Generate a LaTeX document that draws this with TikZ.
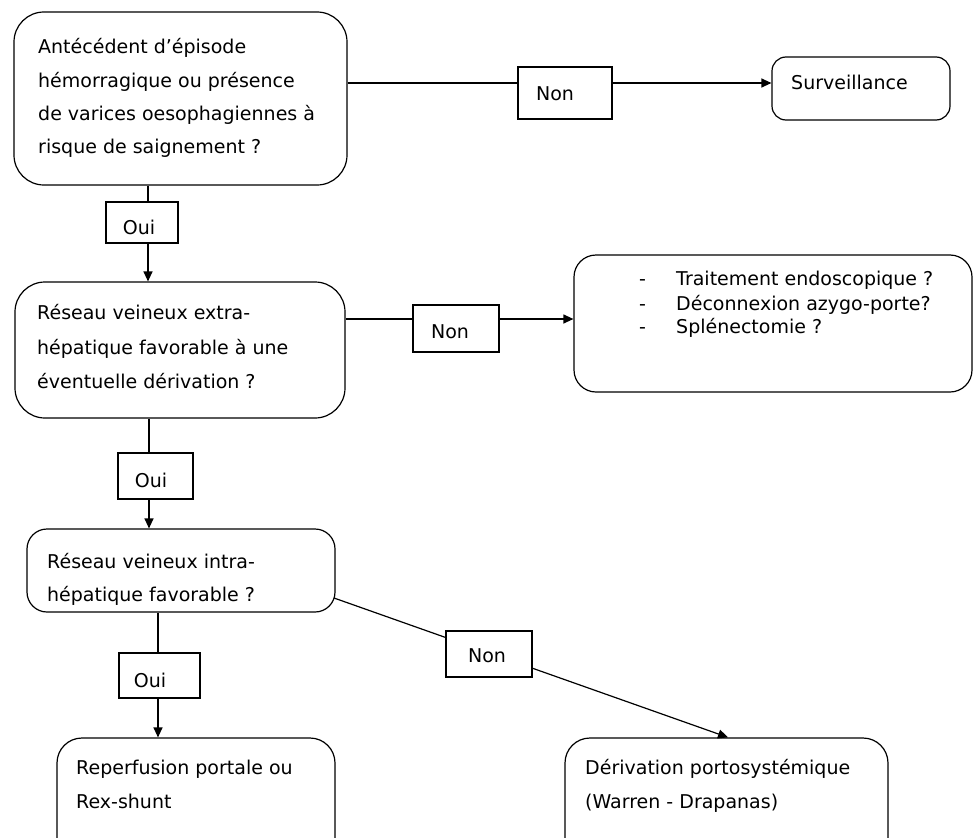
\documentclass[tikz,border=0pt]{standalone}
\usepackage{fontspec}
\setmainfont{DejaVu Sans}
\usetikzlibrary{arrows.meta}
\tikzset{
  rbox/.style={draw, fill=white, rounded corners=#1, line width=1.2bp, inner sep=0pt},
  rbox/.default=25bp,
  lab/.style={draw, fill=white, line width=1.2bp, inner sep=0pt},
  txt/.style={anchor=base west, inner sep=0pt, font=\fontsize{19bp}{23bp}\selectfont},
  ctxt/.style={anchor=base, inner sep=0pt, font=\fontsize{19bp}{23bp}\selectfont},
  conn/.style={line width=1.2bp},
  arr/.style={line width=1.2bp, -{Triangle[length=10bp,width=9bp]}}
}
\begin{document}
\begin{tikzpicture}[x=1bp,y=-1bp]
\useasboundingbox (0,0) rectangle (975,838);
% helper coordinates for connector levels
\coordinate (y1) at (0,83);
\coordinate (y2) at (0,319);
\coordinate (x1) at (148,0);
\coordinate (x2) at (149,0);
\coordinate (x3) at (158,0);
\coordinate (x6) at (728,0);

% boxes
\node[rbox=30bp, minimum width=333bp, minimum height=173bp] (b1) at (180.5,98.5) {};
\node[rbox=14bp, minimum width=178bp, minimum height=63bp] (surv) at (861,88.5) {};
\node[rbox=30bp, minimum width=330bp, minimum height=136bp] (b2) at (180,350) {};
\node[rbox=22bp, minimum width=398bp, minimum height=137bp] (b3) at (773,323.5) {};
\node[rbox=20bp, minimum width=308bp, minimum height=83bp] (b4) at (181,570.5) {};
\node[rbox=25bp, minimum width=278bp, minimum height=130bp] (b5) at (196,803) {};
\node[rbox=25bp, minimum width=323bp, minimum height=130bp] (b6) at (726.5,803) {};

% connectors
\draw[arr] (b1.east |- y1) -- (surv.west |- y1);
\draw[arr] (b1.south -| x1) -- (b2.north -| x1);
\draw[arr] (b2.east |- y2) -- (b3.west |- y2);
\draw[arr] (b2.south -| x2) -- (b4.north -| x2);
\coordinate (s5) at (334,598);
\draw[arr] (s5) -- (b6.north -| x6);
\draw[arr] (b4.south -| x3) -- (b5.north -| x3);

% label boxes
\node[lab, minimum width=94bp, minimum height=52bp] (n1) at (565,93) {};
\node[lab, minimum width=72bp, minimum height=41bp] (o1) at (142,222.5) {};
\node[lab, minimum width=86bp, minimum height=47bp] (n2) at (456,328.5) {};
\node[lab, minimum width=75bp, minimum height=46bp] (o2) at (155.5,476) {};
\node[lab, minimum width=86bp, minimum height=46bp] (n3) at (489,654) {};
\node[lab, minimum width=81bp, minimum height=45bp] (o3) at (159.5,675.5) {};

% label texts
\node[ctxt] (n1t) at (555,100) {Non};
\node[ctxt] (o1t) at (139,234) {Oui};
\node[ctxt] (n2t) at (450,338) {Non};
\node[ctxt] (o2t) at (151,487) {Oui};
\node[ctxt] (n3t) at (487,662) {Non};
\node[ctxt] (o3t) at (150,687) {Oui};

% box texts
\node[txt] (b1t1) at (38,53) {Antécédent d’épisode};
\node[txt] (b1t2) at (38,87) {hémorragique ou présence};
\node[txt] (b1t3) at (38,120) {de varices oesophagiennes à};
\node[txt] (b1t4) at (38,153) {risque de saignement ?};

\node[txt] (st) at (791,89) {Surveillance};

\node[txt] (b2t1) at (37,319) {Réseau veineux extra-};
\node[txt] (b2t2) at (37,354) {hépatique favorable à une};
\node[txt] (b2t3) at (37,388) {éventuelle dérivation ?};

\node[txt] (b3d1) at (639,285) {-};
\node[txt] (b3d2) at (639,310) {-};
\node[txt] (b3d3) at (639,333) {-};
\node[txt] (b3t1) at (676,285) {Traitement endoscopique ?};
\node[txt] (b3t2) at (676,310) {Déconnexion azygo-porte?};
\node[txt] (b3t3) at (676,333) {Splénectomie ?};

\node[txt] (b4t1) at (47,568) {Réseau veineux intra-};
\node[txt] (b4t2) at (47,601) {hépatique favorable ?};

\node[txt] (b5t1) at (76,774) {Reperfusion portale ou};
\node[txt] (b5t2) at (76,808) {Rex-shunt};

\node[txt] (b6t1) at (585,774) {Dérivation portosystémique};
\node[txt] (b6t2) at (585,808) {(Warren - Drapanas)};
\end{tikzpicture}
\end{document}
